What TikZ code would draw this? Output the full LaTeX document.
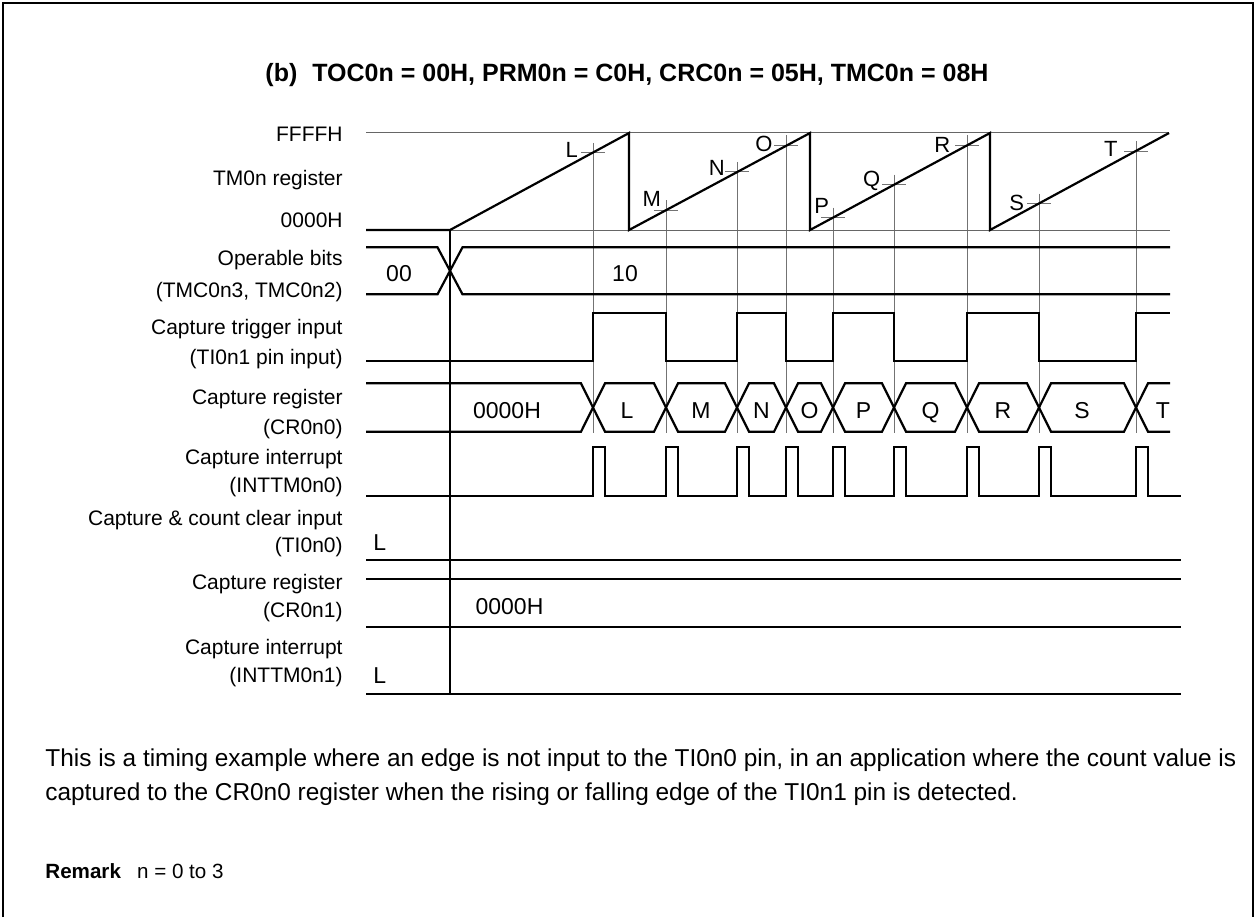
\documentclass[tikz,border=0pt]{standalone}
\usepackage{fontspec}
\setmainfont{Liberation Sans}
\begin{document}
\begin{tikzpicture}[x=0.5pt,y=-0.5pt,
  sig/.style={line width=1.1pt, line join=miter, line cap=butt},
  refline/.style={line width=0.5pt, black!60},
  guide/.style={line width=0.5pt, black!55},
  mainguide/.style={line width=0.55pt, black},
  lab/.style={font=\fontsize{10.5}{12}\selectfont, anchor=base east, inner sep=0pt},
  tick/.style={font=\fontsize{11}{13}\selectfont, anchor=base, inner sep=0pt},
  val/.style={font=\fontsize{11.5}{13}\selectfont, anchor=base, inner sep=0pt},
  valw/.style={font=\fontsize{11.5}{13}\selectfont, anchor=base west, inner sep=0pt},
  body/.style={font=\fontsize{12.2}{14}\selectfont, anchor=base west, inner sep=0pt}
]
\useasboundingbox (0,0) rectangle (1256,917);
% frame
\draw[line width=1pt] (3,917) -- (3,3) -- (1253,3) -- (1253,917);

% title
\node[font=\bfseries\fontsize{12.5}{14}\selectfont, anchor=base, inner sep=0pt] (title) at (627,81)
  {(b)\hspace{0.6em}TOC0n = 00H, PRM0n = C0H, CRC0n = 05H, TMC0n = 08H};

% left labels
\node[lab] (l1) at (343,141.5) {FFFFH};
\node[lab] (l2) at (343,185) {TM0n register};
\node[lab] (l3) at (343,227.5) {0000H};
\node[lab] (l4) at (343,265) {Operable bits};
\node[lab] (l5) at (343,297.5) {(TMC0n3, TMC0n2)};
\node[lab] (l6) at (343,334.5) {Capture trigger input};
\node[lab] (l7) at (343,364) {(TI0n1 pin input)};
\node[lab] (l8) at (343,404.5) {Capture register};
\node[lab] (l9) at (343,434) {(CR0n0)};
\node[lab] (l10) at (343,464) {Capture interrupt};
\node[lab] (l11) at (343,492.5) {(INTTM0n0)};
\node[lab] (l12) at (343,525) {Capture \& count clear input};
\node[lab] (l13) at (343,552.5) {(TI0n0)};
\node[lab] (l14) at (343,589.5) {Capture register};
\node[lab] (l15) at (343,617.5) {(CR0n1)};
\node[lab] (l16) at (343,654) {Capture interrupt};
\node[lab] (l17) at (343,682.5) {(INTTM0n1)};

% guide lines and ticks (event x, ramp start)
\foreach \ex/\rs in {593/450, 666/629, 737/629, 786/629, 833/810, 894/810, 967/810, 1039/990, 1136/990} {
  \pgfmathsetmacro{\ty}{230-(\ex-\rs)*0.539}
  \draw[guide] (\ex,\ty-10) -- (\ex,433);
  \draw[guide] (\ex-12,\ty) -- (\ex+12,\ty);
}
% main guide
\draw[mainguide] (450,230) -- (450,694);

% TM0n reference lines
\draw[refline] (366,132.7) -- (1169,132.7);
\draw[refline] (366,230) -- (1170,230);
% sawtooth
\draw[sig] (366,230) -- (450,230) -- (629,133) -- (629,230) -- (810,133) -- (810,230)
  -- (990,133) -- (990,230) -- (1169,133);

% tick labels
\foreach \t/\px/\py in {L/571.7/150, M/651.7/199, N/716.7/168, O/764/144, P/821.7/205.5,
  Q/871.7/179, R/942.3/145, S/1016.7/202.5, T/1110.7/149} {
  \node[tick] (tk\t) at (\px,\py+7.9) {\t};
}

% operable bits
\draw[sig] (366,247.3) -- (437.5,247.3) -- (462.5,294.3) -- (1170,294.3);
\draw[sig] (366,294.3) -- (437.5,294.3) -- (462.5,247.3) -- (1170,247.3);
\node[val] (ob00) at (399,281.5) {00};
\node[val] (ob10) at (625,281.5) {10};

% capture trigger input
\draw[sig] (366,360.7) -- (593,360.7) -- (593,313.3) -- (666,313.3) -- (666,360.7)
  -- (737,360.7) -- (737,313.3) -- (786,313.3) -- (786,360.7) -- (833,360.7)
  -- (833,313.3) -- (894,313.3) -- (894,360.7) -- (967,360.7) -- (967,313.3)
  -- (1039,313.3) -- (1039,360.7) -- (1136,360.7) -- (1136,313.3) -- (1170,313.3);

% capture register CR0n0 (bus)
\def\bt{383.3}\def\bb{431.7}
\draw[sig] (366,\bt) -- (581,\bt) -- (605,\bb) -- (654,\bb) -- (678,\bt) -- (725,\bt) -- (749,\bb)
  -- (774,\bb) -- (798,\bt) -- (821,\bt) -- (845,\bb) -- (882,\bb) -- (906,\bt) -- (955,\bt)
  -- (979,\bb) -- (1027,\bb) -- (1051,\bt) -- (1124,\bt) -- (1148,\bb) -- (1170,\bb);
\draw[sig] (366,\bb) -- (581,\bb) -- (605,\bt) -- (654,\bt) -- (678,\bb) -- (725,\bb) -- (749,\bt)
  -- (774,\bt) -- (798,\bb) -- (821,\bb) -- (845,\bt) -- (882,\bt) -- (906,\bb) -- (955,\bb)
  -- (979,\bt) -- (1027,\bt) -- (1051,\bb) -- (1124,\bb) -- (1148,\bt) -- (1170,\bt);
\node[val] (cr0) at (507,418.3) {0000H};
\foreach \t/\px in {L/627, M/701, N/761.5, O/809.5, P/863.5, Q/930.5, R/1003, S/1082, T/1163} {
  \node[val] (cr\t) at (\px,418.3) {\t};
}

% capture interrupt INTTM0n0
\draw[sig] (366,496) \foreach \ex in {593, 666, 737, 786, 833, 894, 967, 1039, 1136} {
  -- (\ex,496) -- (\ex,447.3) -- (\ex+12,447.3) -- (\ex+12,496) } -- (1181,496);

% TI0n0
\draw[sig] (366,560) -- (1181,560);
\node[valw] (ti0L) at (373,550) {L};

% CR0n1
\draw[sig] (366,579.3) -- (1181,579.3);
\draw[sig] (366,627.3) -- (1181,627.3);
\node[val] (cr1v) at (509.5,614) {0000H};

% INTTM0n1
\draw[sig] (366,694) -- (1181,694);
\node[valw] (int1L) at (373,683.3) {L};

% body text
\node[body] (b1) at (45,766.7) {This is a timing example where an edge is not input to the TI0n0 pin, in an application where the count value is};
\node[body] (b2) at (45,800) {captured to the CR0n0 register when the rising or falling edge of the TI0n1 pin is detected.};
\node[body, font=\bfseries\fontsize{10.3}{12}\selectfont] (rem) at (45,878) {Remark};
\node[body, font=\fontsize{10.3}{12}\selectfont] (remt) at (136.7,878) {n = 0 to 3};
\end{tikzpicture}
\end{document}
